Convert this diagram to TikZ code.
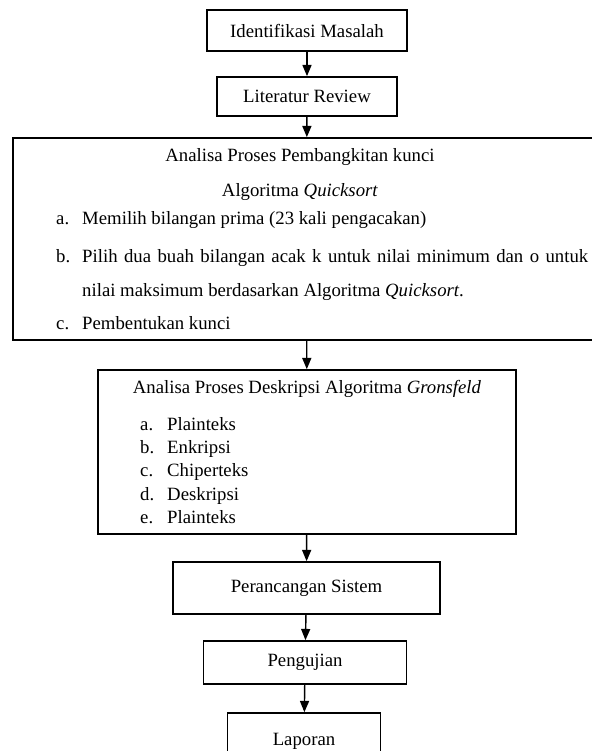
\documentclass[tikz,border=0pt]{standalone}
\usepackage{fontspec}
\setmainfont{Liberation Serif}
\usetikzlibrary{arrows}

\begin{document}
\begin{tikzpicture}[x=0.03cm,y=-0.03cm]
			\tikzstyle{Box}		= [rectangle, draw, line width=1.6pt, fill=white, inner sep=0pt, font=\fontsize{16}{19}\selectfont]
			\tikzstyle{Txt}		= [inner sep=0pt, font=\fontsize{16}{19}\selectfont]
			\tikzstyle{Title}	= [Txt, anchor=base]
			\tikzstyle{Item}	= [Txt, anchor=base west]
			\tikzstyle{Arrow}	= [line width=1.2pt, -triangle 45]
			
			\useasboundingbox (0,0) rectangle (592,751);
			\clip (0,0) rectangle (592,751);
			
			\node (idm) at (307,30.5) [Box][minimum width=6cm, minimum height=1.23cm] {Identifikasi Masalah};
			\node (litrev) at (307,96.5) [Box][minimum width=5.4cm, minimum height=1.17cm] {Literatur Review};
			\node (kunci) at (306.5,239) [Box][minimum width=17.61cm, minimum height=6.06cm] {};
			\node (gron) at (307,452) [Box][minimum width=12.54cm, minimum height=4.92cm] {};
			\node (sistem) at (306.5,588) [Box][minimum width=8.01cm, minimum height=1.56cm] {Perancangan Sistem};
			\node (uji) at (305,662.5) [Box][minimum width=6.09cm, minimum height=1.29cm] {Pengujian};
			\node (lapor) at (304,741.5) [Box][minimum width=4.59cm, minimum height=1.71cm] {Laporan};
			
			\node (kunci1) at (300,161) [Title] {Analisa Proses Pembangkitan kunci};
			\node (kunci2) at (300,196) [Title] {Algoritma \textit{Quicksort}};
			\node (ka) at (56,224) [Item] {\makebox[0.78cm][l]{a.}Memilih bilangan prima (23 kali pengacakan)};
			\node (kb) at (56,262) [Item] {\makebox[0.78cm][l]{b.}\makebox[15.18cm][s]{Pilih dua buah bilangan acak k untuk nilai minimum dan o untuk}};
			\node (kb2) at (82,296) [Item] {nilai maksimum berdasarkan Algoritma \textit{Quicksort}.};
			\node (kc) at (56,329) [Item] {\makebox[0.78cm][l]{c.}Pembentukan kunci};
			
			\node (gron1) at (307,393) [Title] {Analisa Proses Deskripsi Algoritma \textit{Gronsfeld}};
			\node (ga) at (140,430) [Item] {\makebox[0.81cm][l]{a.}Plainteks};
			\node (gb) at (140,453) [Item] {\makebox[0.81cm][l]{b.}Enkripsi};
			\node (gc) at (140,476) [Item] {\makebox[0.81cm][l]{c.}Chiperteks};
			\node (gd) at (140,500) [Item] {\makebox[0.81cm][l]{d.}Deskripsi};
			\node (ge) at (140,523) [Item] {\makebox[0.81cm][l]{e.}Plainteks};
			
			\draw (idm) to (litrev) [Arrow];
			\draw (litrev) to (kunci) [Arrow];
			\draw (kunci) to (gron) [Arrow];
			\draw (gron) to (sistem) [Arrow];
			\draw (sistem) to (uji) [Arrow];
			\draw (uji) to (lapor) [Arrow];
\end{tikzpicture}
\end{document}
